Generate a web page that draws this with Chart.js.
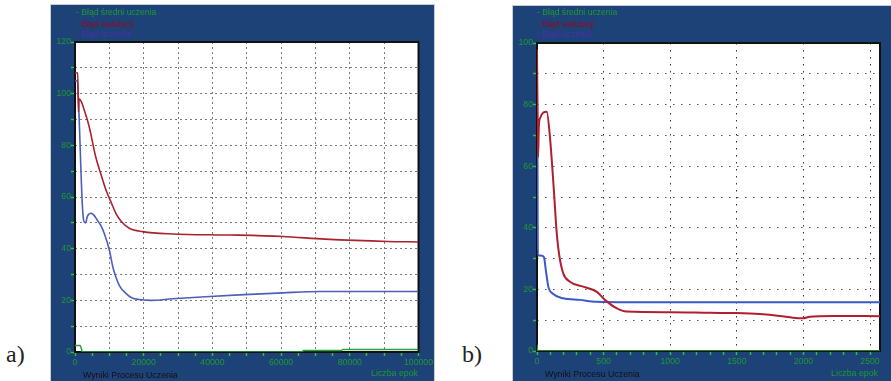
<!DOCTYPE html>
<html>
<head>
<meta charset="utf-8">
<script src="https://cdn.jsdelivr.net/npm/chart.js@4.4.1/dist/chart.umd.min.js"></script>
<style>
    body { margin: 0; background: #fff; width: 891px; height: 381px; position: relative; overflow: hidden; font-family: "Liberation Sans", Arial, sans-serif; }
    .panel { position: absolute; background: #1d4278; box-shadow: 0 0 0 1px #c9ced6; }
    .panel canvas { position: absolute; left: 0; top: 0; }
    .lg { position: absolute; font-size: 8.6px; line-height: 11px; white-space: nowrap; }
    .foot { position: absolute; font-size: 8.8px; line-height: 12px; white-space: nowrap; }
    .tag { position: absolute; font-family: "Liberation Serif", "DejaVu Serif", serif; font-size: 24px; line-height: 24px; color: #222; }
</style>
</head>
<body>

<div class="tag" style="left:6px; top:342px;">a)</div>
<div class="tag" style="left:462px; top:342px;">b)</div>

<div class="panel" style="left:51px; top:5px; width:383px; height:376px;">
    <canvas id="chartA" width="383" height="376"></canvas>
    <div class="lg" style="left:25px; top:2px; color:#1f9a30;">- Błąd średni uczenia</div>
    <div class="lg" style="left:25px; top:13.5px; color:#8e0c26;">- Błąd walidacji</div>
    <div class="lg" style="left:25px; top:23.5px; color:#4b2fa8;">- Błąd uczenia</div>
    <div class="foot" style="left:32px; top:364px; color:#111;">Wyniki Procesu Uczenia</div>
    <div class="foot" style="right:16px; top:362px; color:#1f9a30;">Liczba epok</div>
</div>

<div class="panel" style="left:513px; top:6px; width:378px; height:375px;">
    <canvas id="chartB" width="378" height="375"></canvas>
    <div class="lg" style="left:24px; top:1px; color:#1f9a30;">- Błąd średni uczenia</div>
    <div class="lg" style="left:24px; top:12.5px; color:#8e0c26;">- Błąd walidacji</div>
    <div class="lg" style="left:24px; top:22.5px; color:#4b2fa8;">- Błąd uczenia</div>
    <div class="foot" style="left:32px; top:362px; color:#111;">Wyniki Procesu Uczenia</div>
    <div class="foot" style="right:13px; top:361px; color:#1f9a30;">Liczba epok</div>
</div>

<script>
    // <-- a) 0..100000 epok -->
    const epokiWalA = [0, 800, 1000, 1150, 1800, 2630, 4100, 6000, 7500, 9000, 10500, 11900, 13500, 15800, 19700, 28400, 45000, 60500, 72800, 91000, 100000];
    const bladWalA  = [108, 108, 93, 98, 97, 93.9, 87.4, 75.7, 69, 62.8, 58, 53.7, 50.5, 47.9, 46.6, 45.7, 45.3, 44.7, 43.7, 42.8, 42.6];

    const epokiUczA = [0, 700, 1170, 1660, 2130, 2600, 3100, 3600, 4600, 5500, 6500, 7500, 8500, 10000, 11000, 11900, 13000, 14800, 16500, 18700, 22000, 28400, 38000, 47800, 60500, 71300, 100000];
    const bladUczA  = [105, 105, 92, 73, 57, 50.5, 50, 52.5, 53.7, 53, 51, 49, 46, 39.5, 33, 29, 25.5, 22.7, 21, 20.3, 20, 20.6, 21.4, 22.1, 22.9, 23.4, 23.4];

    const epokiSrA = [0, 1500, 2200, 66000, 66500, 77500, 78000, 100000];
    const bladSrA  = [2.5, 2.5, 0, 0, 0.6, 0.6, 1, 1];

    // <-- b) 0..2575 epok -->
    const epokiWalB = [0, 8, 14, 22, 73, 97, 130, 145, 165, 197, 247, 347, 447, 510, 597, 672, 1000, 1297, 1497, 1672, 1822, 1922, 1997, 2047, 2222, 2575];
    const bladWalB  = [98, 63, 73, 75.5, 77.7, 69.6, 50, 40, 31.7, 25.2, 22.5, 20.9, 19.3, 16.6, 13.9, 12.8, 12.6, 12.4, 12.3, 12, 11.4, 10.8, 10.6, 11.1, 11.4, 11.3];

    const epokiUczB = [0, 4, 6, 28, 52, 67, 85, 122, 197, 322, 447, 1000, 2575];
    const bladUczB  = [88, 60, 31, 31, 30.5, 26, 20.9, 18.5, 17.1, 16.6, 16, 15.8, 15.8];

    const epokiSrB = [0, 5, 2575];
    const bladSrB  = [2, 0, 0];

    const FRAME = '#1d4278';
    const GREEN = '#1f9a30';

    function zip(xs, ys) { return xs.map((x, i) => ({ x, y: ys[i] })); }

    const framePlugin = {
        id: 'frame',
        beforeDraw(chart) {
            const { ctx, chartArea: a, width, height } = chart;
            ctx.save();
            ctx.fillStyle = FRAME;
            ctx.fillRect(0, 0, width, height);
            ctx.fillStyle = '#fff';
            ctx.fillRect(a.left, a.top, a.right - a.left, a.bottom - a.top);
            ctx.restore();
        },
        beforeDatasetsDraw(chart) {
            const { ctx, chartArea: a } = chart;
            ctx.save();
            ctx.strokeStyle = '#111';
            ctx.lineWidth = 2;
            ctx.strokeRect(a.left, a.top, a.right - a.left, a.bottom - a.top);
            ctx.restore();
        }
    };

    function scaleOpts(o) {
        return {
            type: 'linear',
            min: o.min,
            max: o.max,
            afterFit: o.fit,
            border: { display: false, dash: o.dash },
            grid: {
                color: c => (c.tick && c.tick.value % o.gridEvery === 0 && c.tick.value > o.min && c.tick.value < o.max) ? o.gridColor : 'rgba(0,0,0,0)',
                tickColor: '#2fbf42',
                tickLength: 4,
                tickWidth: 1.5,
                lineWidth: 1
            },
            ticks: {
                stepSize: o.step,
                includeBounds: false,
                autoSkip: false,
                maxRotation: 0,
                padding: o.pad,
                color: GREEN,
                font: { size: 8.7, family: 'Liberation Sans' },
                callback: v => (v % o.labelEvery === 0 ? String(v) : '')
            }
        };
    }

    function makeChart(id, sets, xo, yo, pad) {
        new Chart(document.getElementById(id), {
            type: 'line',
            data: {
                datasets: sets.map(s => ({
                    data: s.data,
                    borderColor: s.color,
                    borderWidth: s.width,
                    pointRadius: 0,
                    cubicInterpolationMode: 'monotone',
                    fill: false
                }))
            },
            options: {
                responsive: false,
                animation: false,
                layout: { padding: pad },
                scales: { x: scaleOpts(xo), y: scaleOpts(yo) },
                plugins: { legend: { display: false }, tooltip: { enabled: false } }
            },
            plugins: [framePlugin]
        });
    }

    makeChart('chartA', [
        { data: zip(epokiWalA, bladWalA), color: '#a8232e', width: 1.6 },
        { data: zip(epokiUczA, bladUczA), color: '#4d5fbb', width: 1.6 },
        { data: zip(epokiSrA, bladSrA), color: '#2aa03c', width: 1.5 }
    ],
    { min: 0, max: 100000, step: 5000, labelEvery: 20000, gridEvery: 10000, dash: [2, 3], gridColor: '#7a7a7a', pad: 1, fit: s => { s.height = 29; } },
    { min: 0, max: 120, step: 10, labelEvery: 20, gridEvery: 10, dash: [2, 3], gridColor: '#7a7a7a', pad: 0, fit: s => { s.width = 24; } },
    { top: 37, right: 14, left: 0, bottom: 0 });

    makeChart('chartB', [
        { data: zip(epokiWalB, bladWalB), color: '#b01f2e', width: 2 },
        { data: zip(epokiUczB, bladUczB), color: '#3b58c8', width: 2 },
        { data: zip(epokiSrB, bladSrB), color: '#2aa03c', width: 1.5 }
    ],
    { min: 0, max: 2575, step: 100, labelEvery: 500, gridEvery: 500, dash: [1.5, 5.5], gridColor: '#333', pad: 1, fit: s => { s.height = 30; } },
    { min: 0, max: 100, step: 10, labelEvery: 20, gridEvery: 10, dash: [1.5, 6.5], gridColor: '#555', pad: 0, fit: s => { s.width = 24; } },
    { top: 37, right: 11, left: 0, bottom: 0 });
</script>
</body>
</html>
